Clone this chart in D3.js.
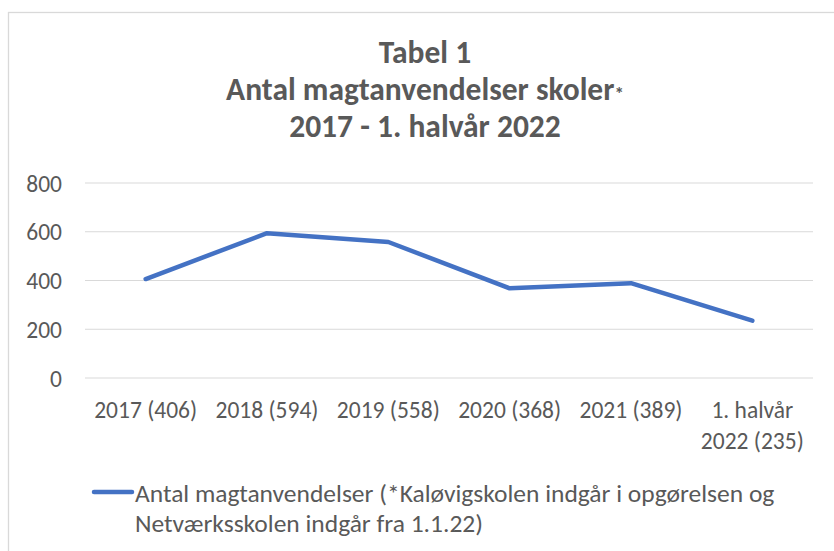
<!DOCTYPE html>
<html lang="da">
<head>
    <meta charset="utf-8">
    <title>Tabel 1</title>
    <script src="https://cdn.jsdelivr.net/npm/d3@7"></script>
    <style>
        body { margin: 0; background: #fff; }
        svg text { font-family: Carlito, "Open Sans", sans-serif; fill: #595959; }
    </style>
</head>
<body>
<div id="chart"></div>

<script type="text/javascript">
// data
var categories = ["2017 (406)", "2018 (594)", "2019 (558)", "2020 (368)", "2021 (389)", "1. halvår|2022 (235)"];
var values = [406, 594, 558, 368, 389, 235];
var yTicks = [0, 200, 400, 600, 800];
var titleLines = ["Tabel 1", "Antal magtanvendelser skoler", "2017 - 1. halvår 2022"];
var legendLines = ["Antal magtanvendelser (*Kaløvigskolen indgår i opgørelsen og", "Netværksskolen indgår fra 1.1.22)"];

var width = 834, height = 551;
var margin = { left: 85, right: 21, top: 183, bottom: 173 };

var svg = d3.select("#chart").append("svg")
    .attr("width", width)
    .attr("height", height);

// chart frame (only top/left visible in the crop)
svg.append("rect")
    .attr("x", 8.5).attr("y", 12.5)
    .attr("width", 840).attr("height", 560)
    .attr("fill", "none")
    .attr("stroke", "#d9d9d9")
    .attr("stroke-width", 1.3);

var x = d3.scaleBand()
    .domain(categories)
    .range([margin.left, width - margin.right]);

var y = d3.scaleLinear()
    .domain([0, 800])
    .range([height - margin.bottom, margin.top]);

// title
var title = svg.append("g");
title.selectAll("text")
    .data(titleLines)
    .enter().append("text")
    .attr("x", 425)
    .attr("y", function(d, i) { return 63 + i * 37; })
    .attr("text-anchor", "middle")
    .style("font-size", "31.5px")
    .style("font-weight", "bold")
    .each(function(d, i) {
        var t = d3.select(this);
        t.append("tspan").text(d);
        if (i == 1) t.append("tspan").style("font-size", "19px").text("*");
    });

// gridlines
svg.append("g")
    .selectAll("line")
    .data(yTicks)
    .enter().append("line")
    .attr("x1", margin.left)
    .attr("x2", width - margin.right)
    .attr("y1", function(d) { return y(d); })
    .attr("y2", function(d) { return y(d); })
    .attr("stroke", "#d9d9d9")
    .attr("stroke-width", 1);

// y labels
var yAxis = svg.append("g")
    .attr("transform", "translate(" + (margin.left - 23) + ",0)")
    .call(d3.axisLeft(y).tickValues(yTicks).tickSize(0).tickPadding(0));
yAxis.select(".domain").remove();
yAxis.selectAll("text")
    .attr("fill", "#595959")
    .style("font-size", "23.5px")
    .attr("dy", "0.35em");

// x labels
var xAxis = svg.append("g")
    .attr("transform", "translate(0," + y(0) + ")")
    .call(d3.axisBottom(x).tickSize(0).tickPadding(0));
xAxis.select(".domain").remove();
xAxis.selectAll("text")
    .attr("fill", "#595959")
    .style("font-size", "23.5px")
    .attr("y", 0)
    .attr("dy", 0)
    .text(null)
    .each(function(d) {
        var t = d3.select(this);
        d.split("|").forEach(function(part, i) {
            t.append("tspan")
                .attr("x", 0)
                .attr("y", 40 + i * 31)
                .text(part);
        });
    });

// line
var line = d3.line()
    .x(function(d, i) { return x(categories[i]) + x.bandwidth() / 2; })
    .y(function(d) { return y(d); });

svg.append("path")
    .datum(values)
    .attr("d", line)
    .attr("fill", "none")
    .attr("stroke", "#4472c4")
    .attr("stroke-width", 4.5)
    .attr("stroke-linejoin", "round")
    .attr("stroke-linecap", "round");

// legend
svg.append("line")
    .attr("x1", 94).attr("x2", 132)
    .attr("y1", 492).attr("y2", 492)
    .attr("stroke", "#4472c4")
    .attr("stroke-width", 4.5)
    .attr("stroke-linecap", "round");

svg.append("g")
    .selectAll("text")
    .data(legendLines)
    .enter().append("text")
    .attr("x", 135)
    .attr("y", function(d, i) { return 502 + i * 30; })
    .style("font-size", "25.5px")
    .text(function(d) { return d; });
</script>
</body>
</html>
